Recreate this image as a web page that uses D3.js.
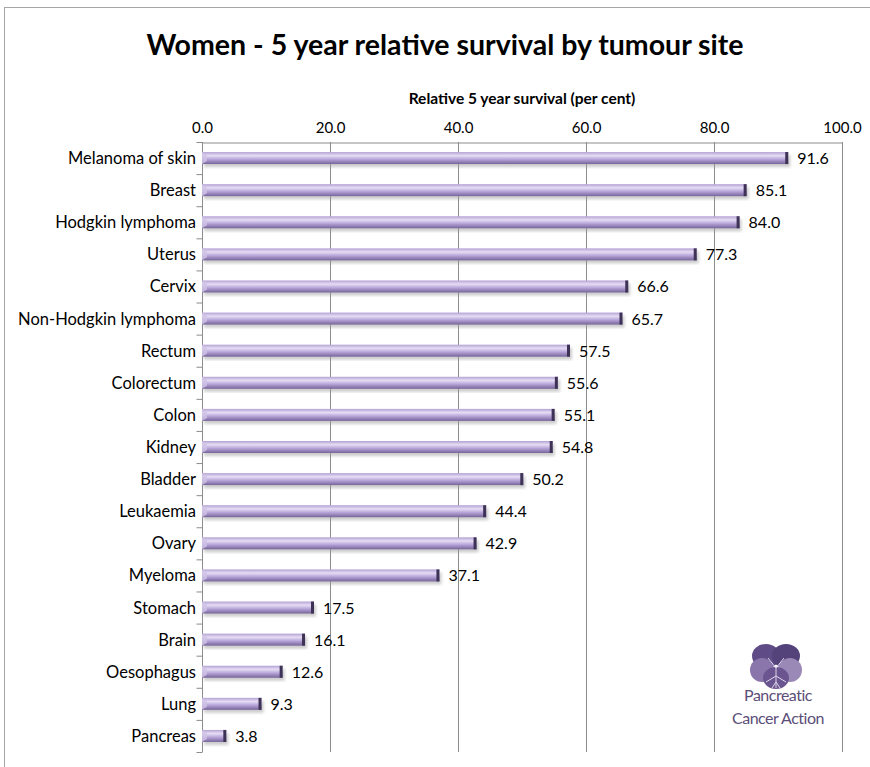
<!DOCTYPE html>
<html>
<head>
<meta charset="utf-8">
<script src="https://cdn.jsdelivr.net/npm/d3@7"></script>
<style>
body { margin: 0; background: #fff; }
text { font-family: Lato, "Open Sans", sans-serif; }
</style>
</head>
<body>
<div id="chart"></div>
<script>
// Data
const sites = ["Melanoma of skin", "Breast", "Hodgkin lymphoma", "Uterus", "Cervix",
    "Non-Hodgkin lymphoma", "Rectum", "Colorectum", "Colon", "Kidney", "Bladder",
    "Leukaemia", "Ovary", "Myeloma", "Stomach", "Brain", "Oesophagus", "Lung", "Pancreas"]
const survival = [91.6, 85.1, 84.0, 77.3, 66.6, 65.7, 57.5, 55.6, 55.1, 54.8, 50.2,
    44.4, 42.9, 37.1, 17.5, 16.1, 12.6, 9.3, 3.8]
const xTicks = [0, 20, 40, 60, 80, 100]

const width = 870
const height = 767
const margin = {top: 142, left: 202, right: 28, bottom: 15}

const svg = d3.select("#chart").append("svg")
    .attr("width", width)
    .attr("height", height)

// outer border
svg.append("rect")
    .attr("x", 4.5).attr("y", 7.5)
    .attr("width", 880).attr("height", 800)
    .attr("fill", "none").attr("stroke", "#a6a6a6")

const x = d3.scaleLinear().domain([0, 100]).range([margin.left, width - margin.right])
const y = d3.scaleBand().domain(sites).range([margin.top, height - margin.bottom]).paddingInner(0)

// gradients
const defs = svg.append("defs")
const grad = defs.append("linearGradient").attr("id", "barGrad")
    .attr("x1", 0).attr("y1", 0).attr("x2", 0).attr("y2", 1)
grad.append("stop").attr("offset", "0%").attr("stop-color", "#b3a1d4")
grad.append("stop").attr("offset", "30%").attr("stop-color", "#e6ddf4")
grad.append("stop").attr("offset", "60%").attr("stop-color", "#b8a6da")
grad.append("stop").attr("offset", "100%").attr("stop-color", "#76649a")
const blur = defs.append("filter").attr("id", "shadow")
blur.append("feGaussianBlur").attr("stdDeviation", 1.5)

// gridlines
svg.append("g").selectAll("line")
    .data(xTicks.slice(1))
    .join("line")
    .attr("x1", d => x(d) + 0.5).attr("x2", d => x(d) + 0.5)
    .attr("y1", margin.top).attr("y2", height - margin.bottom)
    .attr("stroke", "#8c8c8c")

// top axis
const xAxis = svg.append("g")
    .attr("transform", `translate(0,${margin.top + 0.5})`)
    .call(d3.axisTop(x).tickValues(xTicks).tickFormat(d3.format(".1f")).tickSize(0).tickPadding(10))
xAxis.select(".domain").attr("stroke", "#8c8c8c")
xAxis.selectAll("text").attr("font-size", 15).attr("fill", "#000")

svg.append("text")
    .attr("x", 522).attr("y", 104)
    .attr("text-anchor", "middle")
    .attr("font-size", 15.5).attr("font-weight", "bold")
    .text("Relative 5 year survival (per cent)")

// left axis
const yAxis = svg.append("g").attr("transform", `translate(${margin.left + 0.5},0)`)
yAxis.append("line")
    .attr("y1", margin.top).attr("y2", height - margin.bottom)
    .attr("stroke", "#8c8c8c")
yAxis.selectAll("line.tick")
    .data(d3.range(sites.length + 1))
    .join("line").attr("class", "tick")
    .attr("x1", -6).attr("x2", 0)
    .attr("y1", d => margin.top + d * y.step() + 0.5)
    .attr("y2", d => margin.top + d * y.step() + 0.5)
    .attr("stroke", "#8c8c8c")

svg.append("g").selectAll("text")
    .data(sites)
    .join("text")
    .attr("x", 196)
    .attr("y", d => y(d) + y.bandwidth() / 2 + 6)
    .attr("text-anchor", "end")
    .attr("font-size", 16.5)
    .text(d => d)

// bars
const barH = 12
const bars = svg.append("g").selectAll("g")
    .data(sites.map((s, i) => ({site: s, value: survival[i]})))
    .join("g")
    .attr("transform", d => `translate(0,${y(d.site) + y.bandwidth() / 2 - barH / 2})`)

bars.append("rect")
    .attr("x", x(0) + 2).attr("y", 3)
    .attr("width", d => x(d.value) - x(0))
    .attr("height", barH)
    .attr("fill", "#999").attr("opacity", 0.5)
    .attr("filter", "url(#shadow)")
bars.append("rect")
    .attr("x", x(0))
    .attr("width", d => x(d.value) - x(0))
    .attr("height", barH)
    .attr("fill", "url(#barGrad)")
bars.append("polygon")
    .attr("points", `${x(0)},0 ${x(0) + 5},3 ${x(0) + 5},${barH - 3} ${x(0)},${barH}`)
    .attr("fill", "#cfc3e6").attr("opacity", 0.8)
bars.append("rect")
    .attr("x", d => x(d.value) - 3)
    .attr("width", 3)
    .attr("height", barH)
    .attr("fill", "#3e3256")

// value labels
bars.append("text")
    .attr("x", d => x(d.value) + 9)
    .attr("y", barH / 2 + 6)
    .attr("font-size", 16)
    .text(d => d3.format(".1f")(d.value))

// title
svg.append("text")
    .attr("x", 445).attr("y", 55)
    .attr("text-anchor", "middle")
    .attr("font-size", 28.5).attr("font-weight", "bold")
    .text("Women - 5 year relative survival by tumour site")

// logo
const logo = svg.append("g").attr("transform", "translate(776,666)")
const petals = [
    {cx: -10, cy: -10, rx: 14, ry: 12, c: "#5f4b85"},
    {cx: 10, cy: -10, rx: 14, ry: 12, c: "#54427a"},
    {cx: -14, cy: 4, rx: 12, ry: 12, c: "#8a76ab"},
    {cx: 14, cy: 4, rx: 12, ry: 12, c: "#9a88b6"},
    {cx: 0, cy: 12, rx: 13, ry: 11, c: "#6b5590"}
]
logo.selectAll("ellipse").data(petals).join("ellipse")
    .attr("cx", d => d.cx).attr("cy", d => d.cy)
    .attr("rx", d => d.rx).attr("ry", d => d.ry)
    .attr("fill", d => d.c)
logo.append("path")
    .attr("d", "M0,22 L0,2 M0,2 L-8,-8 M0,2 L8,-8 M0,10 L-10,16 M0,10 L10,16 M0,16 L-4,22 M0,16 L4,22")
    .attr("stroke", "#ddd5ea").attr("stroke-width", 1).attr("fill", "none")
svg.append("text").attr("x", 778).attr("y", 701).attr("text-anchor", "middle")
    .attr("font-family", "Liberation Sans").attr("font-size", 16).attr("fill", "#5b4e78")
    .attr("letter-spacing", -0.5)
    .text("Pancreatic")
svg.append("text").attr("x", 778).attr("y", 724).attr("text-anchor", "middle")
    .attr("font-family", "Liberation Sans").attr("font-size", 16).attr("fill", "#5b4e78")
    .attr("letter-spacing", -0.5)
    .text("Cancer Action")
</script>
</body>
</html>
